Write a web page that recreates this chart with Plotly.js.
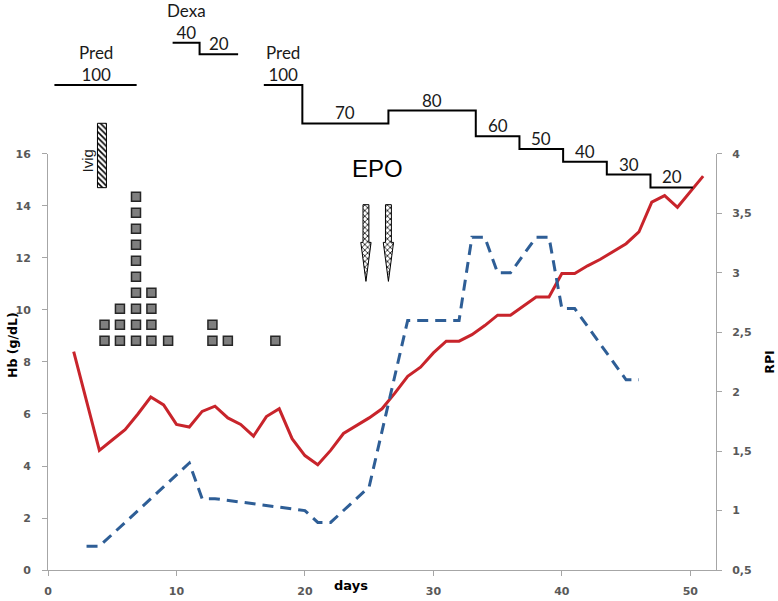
<!DOCTYPE html>
<html>
<head>
<meta charset="utf-8">
<script src="https://cdn.plot.ly/plotly-3.0.1.min.js"></script>
<style>
  html, body { margin: 0; padding: 0; background: #fff; }
  #chart { width: 778px; height: 601px; }
</style>
</head>
<body>
<div id="chart"></div>
<script>
// Hb (g/dL) per day
const hbDays = [2, 4, 5, 6, 7, 8, 9, 10, 11, 12, 13, 14, 15, 16, 17, 18, 19, 20, 21, 22, 23, 24, 25, 26,
  27, 28, 29, 30, 31, 32, 33, 34, 35, 36, 37, 38, 39, 40, 41, 42, 43, 44, 45, 46, 47, 48, 49, 51];
const hbValues = [8.4, 4.6, 5.0, 5.4, 6.0, 6.65, 6.35, 5.6, 5.5, 6.1, 6.3, 5.85, 5.6, 5.15, 5.9, 6.2, 5.05, 4.4,
  4.05, 4.6, 5.25, 5.55, 5.85, 6.2, 6.8, 7.45, 7.8, 8.35, 8.8, 8.8, 9.05, 9.4, 9.8, 9.8, 10.15, 10.5, 10.5,
  11.4, 11.4, 11.7, 11.95, 12.25, 12.55, 13.0, 14.15, 14.4, 13.95, 15.15];

// reticulocyte production index (right axis)
const rpiDays = [3, 4, 11, 12, 13, 20, 21, 22, 25, 28, 32, 33, 34, 35, 36, 38, 39, 40, 41, 45, 46];
const rpiValues = [0.7, 0.7, 1.4, 1.1, 1.1, 1.0, 0.9, 0.9, 1.2, 2.6, 2.6, 3.3, 3.3, 3.0, 3.0, 3.3, 3.3, 2.7, 2.7, 2.1, 2.1];

// transfusions, stacked per day
const transfusionDays = [4.4, 5.6, 6.85, 8.05, 9.35, 12.8, 14.0, 17.7];
const transfusionCounts = [2, 3, 10, 4, 1, 2, 1, 1];

// steroid steps: start day of each dose, plus the day the course ends
const pred1Starts = [0.5];
const pred1Doses = [100];
const pred1End = 6.9;
const dexaStarts = [9.7, 11.8];
const dexaDoses = [40, 20];
const dexaEnd = 14.8;
const pred2Starts = [16.8, 19.8, 26.5, 33.3, 36.7, 40.1, 43.5, 46.9];
const pred2Doses = [100, 70, 80, 60, 50, 40, 30, 20];
const pred2End = 50.2;

const ivigDay = 4.2;
const epoDays = [24.75, 26.5];

// ---- styling ----
const AXIS_GREY = "#a6a6a6";
const TICK_FONT = { family: "DejaVu Sans", size: 11, color: "#595959", weight: "bold" };
const TITLE_FONT = { family: "DejaVu Sans", size: 12.5, color: "#000", weight: "bold" };
const STEP_FONT = { family: "Lato, sans-serif", size: 17, color: "#1a1a1a" };
const STACK_BASE = 8.82, STACK_STEP = 0.615;
const ARROW = { shaft: 0.23, head: 0.4, top: 14.05, neck: 12.6, tip: 11.1 };
const IVIG_BAR = { base: 19.8, top: 70.1 };

const sqX = [], sqY = [];
transfusionDays.forEach((d, i) => {
  for (let k = 0; k < transfusionCounts[i]; k++) {
    sqX.push(d);
    sqY.push(STACK_BASE + k * STACK_STEP);
  }
});

const arrX = [], arrY = [];
epoDays.forEach((d) => {
  const a = ARROW;
  arrX.push(d - a.shaft, d + a.shaft, d + a.shaft, d + a.head, d, d - a.head, d - a.shaft, d - a.shaft, null);
  arrY.push(a.top, a.top, a.neck, a.neck, a.tip, a.neck, a.neck, a.top, null);
});

function stepTrace(starts, doses, end, yaxis) {
  return {
    x: [...starts, end],
    y: [...doses, doses[doses.length - 1]],
    yaxis,
    type: "scatter",
    mode: "lines",
    line: { color: "#000", width: 2, shape: "hv" },
    hoverinfo: "skip",
  };
}

function stepLabels(starts, doses, end, yref, name) {
  const bounds = [...starts, end];
  return doses.map((dose, i) => ({
    x: (bounds[i] + bounds[i + 1]) / 2,
    y: dose,
    xref: "x",
    yref,
    text: i === 0 ? `${name}<br>${dose}` : `${dose}`,
    showarrow: false,
    yanchor: "bottom",
    yshift: -2,
    font: STEP_FONT,
  }));
}

const traces = [
  {
    x: sqX, y: sqY, type: "scatter", mode: "markers",
    marker: { symbol: "square", size: 9, color: "#7f7f7f", line: { color: "#262626", width: 1.5 } },
    hoverinfo: "skip",
  },
  {
    x: hbDays, y: hbValues, type: "scatter", mode: "lines", name: "Hb",
    line: { color: "#c8242b", width: 3 },
  },
  {
    x: rpiDays, y: rpiValues, yaxis: "y2", type: "scatter", mode: "lines", name: "RPI",
    line: { color: "#2e5e96", width: 3, dash: "11px,7px" },
  },
  {
    x: arrX, y: arrY, type: "scatter", mode: "lines", fill: "toself",
    fillcolor: "#fff",
    fillpattern: { shape: "x", fgcolor: "#000", bgcolor: "#fff", size: 4, solidity: 0.35 },
    line: { color: "#000", width: 1 },
    hoverinfo: "skip",
  },
  {
    x: [ivigDay], y: [IVIG_BAR.top - IVIG_BAR.base], base: [IVIG_BAR.base], width: [0.7],
    yaxis: "y3", type: "bar",
    marker: {
      color: "#fff",
      line: { color: "#000", width: 1 },
      pattern: { shape: "\\", fgcolor: "#000", bgcolor: "#fff", size: 4, solidity: 0.4 },
    },
    hoverinfo: "skip",
  },
  stepTrace(pred1Starts, pred1Doses, pred1End, "y3"),
  stepTrace(pred2Starts, pred2Doses, pred2End, "y3"),
  stepTrace(dexaStarts, dexaDoses, dexaEnd, "y4"),
];

const annotations = [
  ...stepLabels(pred1Starts, pred1Doses, pred1End, "y3", "Pred"),
  ...stepLabels(pred2Starts, pred2Doses, pred2End, "y3", "Pred"),
  ...stepLabels(dexaStarts, dexaDoses, dexaEnd, "y4", "Dexa"),
  {
    x: (epoDays[0] + epoDays[1]) / 2, y: 15.45, xref: "x", yref: "y",
    text: "EPO", showarrow: false,
    font: { family: "Liberation Sans", size: 24, color: "#000" },
  },
  {
    x: ivigDay, y: 41, xref: "x", yref: "y3", xshift: -14,
    xanchor: "center", yanchor: "middle",
    text: "Ivig", textangle: -90, showarrow: false,
    font: { family: "Liberation Sans", size: 15, color: "#1a1a1a" },
  },
  {
    x: -0.054, y: 8.65, xref: "paper", yref: "y",
    xanchor: "center", yanchor: "middle",
    text: "Hb (g/dL)", textangle: -90, showarrow: false, font: TITLE_FONT,
  },
  {
    x: 23.6, y: -0.029, xref: "x", yref: "paper",
    xanchor: "center", yanchor: "middle",
    text: "days", showarrow: false, font: { ...TITLE_FONT, size: 13 },
  },
];

const axisBase = {
  showline: true, linecolor: AXIS_GREY, linewidth: 1,
  ticks: "outside", ticklen: 5, tickcolor: AXIS_GREY,
  showgrid: false, zeroline: false, tickfont: TICK_FONT,
  fixedrange: true,
};

const layout = {
  width: 778, height: 601,
  margin: { l: 48, r: 62, t: 20, b: 31 },
  paper_bgcolor: "#fff",
  plot_bgcolor: "rgba(0,0,0,0)",
  separators: ", ",
  showlegend: false,
  xaxis: { ...axisBase, range: [0, 52], tickvals: [0, 10, 20, 30, 40, 50], anchor: "y", ticklabelstandoff: 6 },
  yaxis: { ...axisBase, domain: [0, 0.7564], range: [0, 16], dtick: 2, ticklabelstandoff: 9 },
  yaxis2: {
    ...axisBase, overlaying: "y", side: "right", range: [0.5, 4], dtick: 0.5, ticklabelstandoff: 8,
    title: { text: "RPI", font: TITLE_FONT, standoff: 14 },
  },
  yaxis3: { domain: [0, 1], range: [-278.9, 150.8], visible: false, anchor: "x", fixedrange: true },
  yaxis4: { overlaying: "y3", range: [-869, 79], visible: false, fixedrange: true },
  annotations,
};

Plotly.newPlot("chart", traces, layout, { staticPlot: true });
</script>
</body>
</html>
